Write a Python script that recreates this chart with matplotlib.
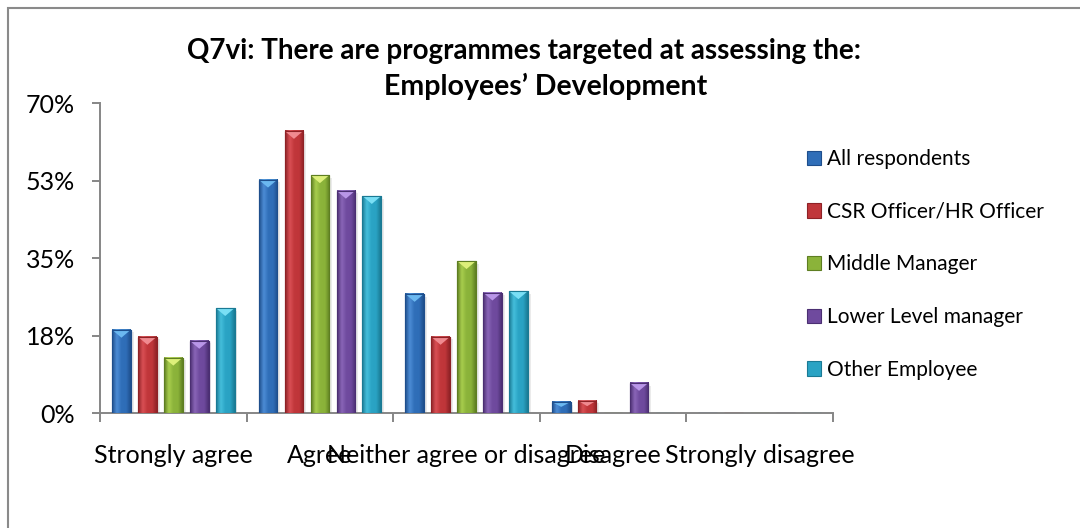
import numpy as np
import matplotlib
matplotlib.use("Agg")
import matplotlib.pyplot as plt
from matplotlib.colors import LinearSegmentedColormap
from matplotlib.patches import Rectangle

# --- Données ---
categories = ["Strongly agree", "Agree", "Neither agree or disagree", "Disagree", "Strongly disagree"]
series_names = ["All respondents", "CSR Officer/HR Officer", "Middle Manager",
                "Lower Level manager", "Other Employee"]
all_respondents = [18.8, 52.7, 26.9, 2.5, 0.0]
csr_hr_officer = [17.2, 63.7, 17.2, 2.8, 0.0]
middle_manager = [12.5, 53.7, 34.3, 0.0, 0.0]
lower_manager = [16.3, 50.2, 27.2, 6.8, 0.0]
other_employee = [23.7, 49.0, 27.5, 0.0, 0.0]
series_values = [all_respondents, csr_hr_officer, middle_manager, lower_manager, other_employee]

y_ticks = [0, 17.5, 35, 52.5, 70]
y_tick_labels = ["0%", "18%", "35%", "53%", "70%"]

# (sombre, principal, clair, biseau du haut)
palette = [
    ("#1E4E8C", "#2F6EB8", "#4D8DD6", "#6BB8F0"),
    ("#8E2226", "#C0363A", "#DA5055", "#F08A90"),
    ("#5E7E22", "#8BB33A", "#A9CE4E", "#DDF07A"),
    ("#4B2F72", "#6F4A9E", "#8A66B8", "#B996E8"),
    ("#1A7A94", "#2AA3C4", "#45BFDC", "#7ADFF5"),
]

plt.rcParams["font.family"] = ["Lato", "DejaVu Sans"]

fig = plt.figure(figsize=(10.8, 5.28), dpi=100)
ax = fig.add_axes([0.0926, 0.2178, 0.6787, 0.5871])

x = np.arange(len(categories)) + 0.5
pitch = 0.177
width = 0.127
bevel = 1.8

bars = []
for j, vals in enumerate(series_values):
    dark, main, light, top = palette[j]
    pos = x + (j - 2) * pitch
    # ombre portée légère
    ax.bar(pos + 0.02, vals, width, bottom=-0.6, color="#000000", alpha=0.08,
           linewidth=0, zorder=1)
    b = ax.bar(pos, vals, width, color=main, edgecolor=dark, linewidth=0.8,
               label=series_names[j], zorder=3)
    bars.append(b)
    cmap = LinearSegmentedColormap.from_list("g%d" % j, [dark, light, main, main, dark])
    grad = np.linspace(0, 1, 64).reshape(1, -1)
    for rect in b.patches:
        x0, w, h = rect.get_x(), rect.get_width(), rect.get_height()
        if h <= 0:
            continue
        ax.imshow(grad, extent=[x0, x0 + w, 0, h], aspect="auto", cmap=cmap,
                  zorder=4, interpolation="bicubic")
        d = min(bevel, h * 0.45)
        ax.fill([x0, x0 + w, x0 + w / 2], [h, h, h - d], color=top, zorder=5, linewidth=0)
        ax.add_patch(Rectangle((x0, 0), w, h, fill=False, edgecolor=dark,
                               linewidth=0.8, zorder=6))

ax.set_xlim(0, 5)
ax.set_ylim(0, 70)

for side in ("top", "right"):
    ax.spines[side].set_visible(False)
for side in ("left", "bottom"):
    ax.spines[side].set_color("#868686")
    ax.spines[side].set_linewidth(1.4)

ax.set_yticks(y_ticks)
ax.set_yticklabels(y_tick_labels)
ax.tick_params(axis="y", direction="out", length=6, width=1.4, color="#868686",
               pad=12, labelsize=18)

ax.set_xticks(np.arange(6))
ax.set_xticklabels([])
ax.set_xticks(x, minor=True)
ax.set_xticklabels(categories, minor=True)
ax.tick_params(axis="x", which="major", direction="out", length=6.5, width=1.4,
               color="#868686")
ax.tick_params(axis="x", which="minor", length=0, pad=22, labelsize=18)

fig.text(524 / 1080, 1 - 51 / 528, "Q7vi: There are programmes targeted at assessing the:",
         ha="center", va="center", fontsize=20, fontweight="bold")
fig.text(546 / 1080, 1 - 86 / 528, "Employees\u2019 Development",
         ha="center", va="center", fontsize=20.5, fontweight="bold")

ax.legend(handles=bars, loc="upper left", bbox_to_anchor=(807 / 1080, 1 - 149 / 528),
          bbox_transform=fig.transFigure, frameon=False, fontsize=15,
          handlelength=0.68, handleheight=0.68, handletextpad=0.3,
          labelspacing=1.57, borderaxespad=0, borderpad=0)

# cadre du graphique
fig.patches.append(Rectangle((8 / 1080, -0.5), 2.0, 0.5 + 1 - 8 / 528, fill=False,
                             edgecolor="#8A8A8A", linewidth=1.5,
                             transform=fig.transFigure, figure=fig))

fig.savefig("out.png", dpi=100)
